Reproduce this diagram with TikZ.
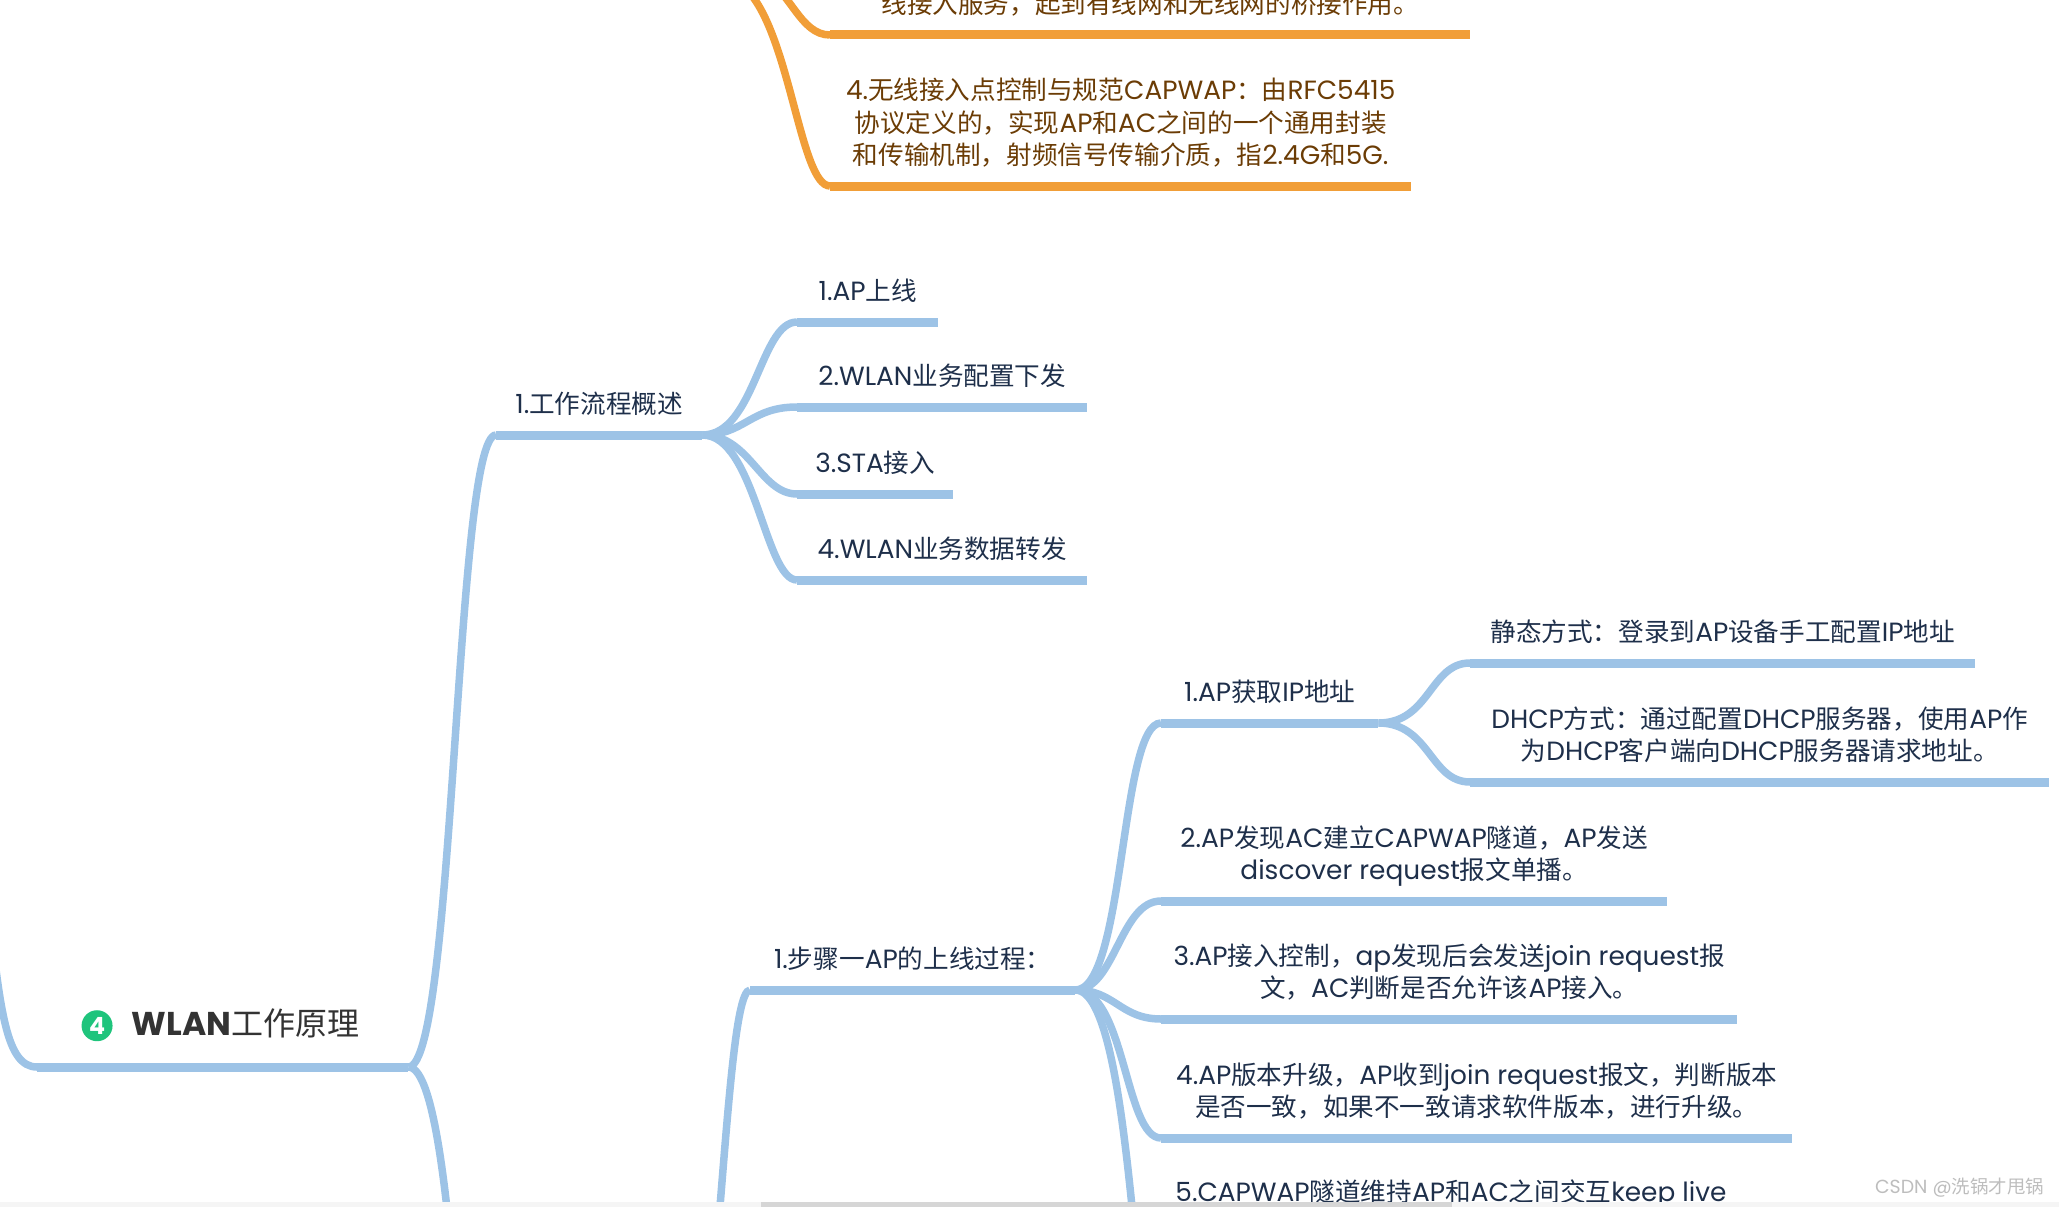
\documentclass[tikz,border=0pt]{standalone}
\usepackage{xcolor}
\usepackage{fontspec}
\usepackage{tikz}
\usetikzlibrary{positioning}
\setmainfont[Scale=1.03]{Poppins}
\newfontfamily\cjk{Noto Sans CJK SC}
\newcommand{\zh}[1]{{\cjk #1}}
\definecolor{mapblue}{HTML}{9DC3E6}
\definecolor{maporange}{HTML}{F19E38}
\definecolor{mapink}{HTML}{1E2F4A}
\definecolor{mapbrown}{HTML}{6B3C05}
\definecolor{mapgreen}{HTML}{1FC47C}
\definecolor{maptitle}{HTML}{333333}
\definecolor{barlight}{HTML}{F5F5F5}
\definecolor{barthumb}{HTML}{D6D6D6}
\definecolor{markgray}{HTML}{BDBDBD}

\begin{document}
\begin{tikzpicture}[x=1pt, y=-1pt, line cap=butt,
    rail/.style={fill=mapblue, anchor=west, inner sep=0pt, minimum height=9pt},
    orail/.style={rail, fill=maporange},
    twig/.style={draw=mapblue, line width=7.5pt},
    otwig/.style={draw=maporange, line width=7.5pt},
    lab/.style={text=mapink, align=center, inner sep=0pt, text depth=7pt, font=\fontsize{25.6}{32.5}\selectfont},
    olab/.style={lab, text=mapbrown}]
  \useasboundingbox (0,0) rectangle (2059,1207);

  % orange branch cut by the top edge
  \coordinate (otopa) at (765,-20);
  \coordinate (otopb) at (745,-12);
  \node[orail, minimum width=640pt] (obridge) at (830,35) {};
  \node[orail, minimum width=581pt] (ocapwap) at (830,186) {};
  \node[olab, above=9.5pt of obridge] (obridget) {\zh{线接入服务，起到有线网和无线网的桥接作用。}};
  \node[olab, above=9.5pt of ocapwap] (ocapwapt) {4.\zh{无线接入点控制与规范}CAPWAP\zh{：由}RFC5415\\\zh{协议定义的，实现}AP\zh{和}AC\zh{之间的一个通用封装}\\\zh{和传输机制，射频信号传输介质，指}2.4G\zh{和}5G.};
  \draw[otwig] (otopa) .. controls (790,-10) and (800,35) .. (obridge.west);
  \draw[otwig] (otopb) .. controls (790,30) and (800,186) .. (ocapwap.west);

  % root
  \node[rail, minimum width=371pt] (root) at (37,1067) {};
  \node[above=19pt of root, xshift=23pt, inner sep=0pt, text=maptitle, text depth=8pt, font=\fontsize{32}{38}\selectfont] (roott) {\bfseries WLAN\zh{\mdseries 工作原理}};
  \node[circle, fill=mapgreen, text=white, inner sep=0pt, minimum size=31pt, font=\fontsize{23}{23}\selectfont\bfseries, left=19pt of roott] (badge) {4};
  \coordinate (rootin) at (-12,900);
  \draw[twig] (root.west) .. controls (6,1067) and (0,1010) .. (rootin);

  % overview branch
  \node[rail, minimum width=206pt] (over) at (496,435) {};
  \node[lab, above=9.5pt of over] (overt) {1.\zh{工作流程概述}};
  \draw[twig] (root.east) .. controls (455,1067) and (455,435) .. (over.west);
  \node[rail, minimum width=141pt] (ova) at (797,322) {};
  \node[rail, minimum width=290pt] (ovb) at (797,407) {};
  \node[rail, minimum width=156pt] (ovc) at (797,494) {};
  \node[rail, minimum width=290pt] (ovd) at (797,580) {};
  \node[lab, above=9.5pt of ova] (ovat) {1.AP\zh{上线}};
  \node[lab, above=9.5pt of ovb] (ovbt) {2.WLAN\zh{业务配置下发}};
  \node[lab, above=9.5pt of ovc] (ovct) {3.STA\zh{接入}};
  \node[lab, above=9.5pt of ovd] (ovdt) {4.WLAN\zh{业务数据转发}};
  \draw[twig] (over.east) .. controls (755,435) and (760,322) .. (ova.west);
  \draw[twig] (over.east) .. controls (745,435) and (750,407) .. (ovb.west);
  \draw[twig] (over.east) .. controls (750,435) and (760,494) .. (ovc.west);
  \draw[twig] (over.east) .. controls (755,435) and (765,580) .. (ovd.west);

  % online steps
  \coordinate (rootout) at (496,1699);
  \coordinate (stepin) at (650,1560);
  \draw[twig] (root.east) .. controls (465,1067) and (465,1699) .. (rootout);
  \node[rail, minimum width=325pt] (step) at (750,990) {};
  \node[lab, above=9.5pt of step] (stept) {1.\zh{步骤一}AP\zh{的上线过程：}};
  \draw[twig] (stepin) .. controls (719,1560) and (719,990) .. (step.west);
  \node[rail, minimum width=217pt] (ipget) at (1161,723) {};
  \node[rail, minimum width=506pt] (found) at (1161,901) {};
  \node[rail, minimum width=576pt] (join) at (1161,1019) {};
  \node[rail, minimum width=631pt] (ver) at (1161,1138) {};
  \coordinate (keep) at (1161,1400);
  \node[lab, above=9.5pt of ipget] (ipgett) {1.AP\zh{获取}IP\zh{地址}};
  \node[lab, above=9.5pt of found] (foundt) {2.AP\zh{发现}AC\zh{建立}CAPWAP\zh{隧道，}AP\zh{发送}\\discover request\zh{报文单播。}};
  \node[lab, above=9.5pt of join] (joint) {3.AP\zh{接入控制，}ap\zh{发现后会发送}join request\zh{报}\\\zh{文，}AC\zh{判断是否允许该}AP\zh{接入。}};
  \node[lab, above=9.5pt of ver] (vert) {4.AP\zh{版本升级，}AP\zh{收到}join request\zh{报文，判断版本}\\\zh{是否一致，如果不一致请求软件版本，进行升级。}};
  \node[lab] (keept) at (1451,1194) {5.CAPWAP\zh{隧道维持}AP\zh{和}AC\zh{之间交互}keep live};
  \draw[twig] (step.east) .. controls (1125,990) and (1120,723) .. (ipget.west);
  \draw[twig] (step.east) .. controls (1115,990) and (1120,901) .. (found.west);
  \draw[twig] (step.east) .. controls (1115,990) and (1120,1019) .. (join.west);
  \draw[twig] (step.east) .. controls (1125,990) and (1125,1138) .. (ver.west);
  \draw[twig] (step.east) .. controls (1135,990) and (1135,1400) .. (keep);
  \node[rail, minimum width=505pt] (ipstat) at (1470,663) {};
  \node[rail, minimum width=579pt] (ipdhcp) at (1470,782) {};
  \node[lab, above=9.5pt of ipstat] (ipstatt) {\zh{静态方式：登录到}AP\zh{设备手工配置}IP\zh{地址}};
  \node[lab, above=9.5pt of ipdhcp] (ipdhcpt) {DHCP\zh{方式：通过配置}DHCP\zh{服务器，使用}AP\zh{作}\\\zh{为}DHCP\zh{客户端向}DHCP\zh{服务器请求地址。}};
  \draw[twig] (ipget.east) .. controls (1430,723) and (1430,663) .. (ipstat.west);
  \draw[twig] (ipget.east) .. controls (1430,723) and (1430,782) .. (ipdhcp.west);

  % window furniture
  \node[fill=barlight, anchor=north west, inner sep=0pt, minimum width=2059pt, minimum height=5pt] (track) at (0,1202) {};
  \node[fill=barthumb, anchor=north west, inner sep=0pt, minimum width=691pt, minimum height=5pt] (thumb) at (761,1202) {};
  \node[text=markgray, anchor=east, inner sep=0pt, font=\fontsize{18.4}{22}\selectfont] (wmark) at (2044,1188) {CSDN @\zh{洗锅才甩锅}};
\end{tikzpicture}
\end{document}
